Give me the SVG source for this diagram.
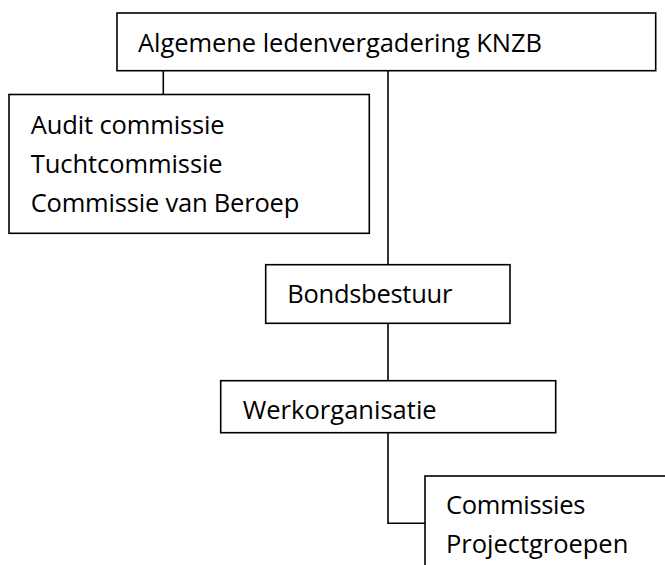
<svg xmlns="http://www.w3.org/2000/svg" width="665" height="565" viewBox="0 0 665 565">
<style>
.box{fill:#fff;stroke:#000;stroke-width:1.6}
.t{font-family:"Open Sans","Noto Sans",sans-serif;font-size:25.5px;fill:#000}
.c{fill:none;stroke:#000;stroke-width:1.6}
</style>
<rect width="665" height="565" fill="#fff"/>
<g id="connectors">
<path class="c" d="M163.3,70.7V94.5"/>
<path class="c" d="M388,70.7V264.7"/>
<path class="c" d="M388,323.3V380.7"/>
<path class="c" d="M388,432.7V523.3H425"/>
</g>
<g id="alv">
<rect class="box" x="117" y="13" width="538.7" height="57.7"/>
<text class="t" x="138" y="52" textLength="404">Algemene ledenvergadering KNZB</text>
</g>
<g id="commissies-alv">
<rect class="box" x="9" y="94.5" width="360.3" height="138.8"/>
<text class="t" x="30.7" y="134" textLength="194">Audit commissie</text>
<text class="t" x="30.7" y="173" textLength="192">Tuchtcommissie</text>
<text class="t" x="30.7" y="212" textLength="268.6">Commissie van Beroep</text>
</g>
<g id="bondsbestuur">
<rect class="box" x="265.7" y="264.7" width="244.3" height="58.6"/>
<text class="t" x="287.3" y="302.7" textLength="165">Bondsbestuur</text>
</g>
<g id="werkorganisatie">
<rect class="box" x="220.7" y="380.7" width="335" height="52"/>
<text class="t" x="242.7" y="419" textLength="194">Werkorganisatie</text>
</g>
<g id="commissies">
<rect class="box" x="425" y="476" width="300" height="150"/>
<text class="t" x="446" y="514" textLength="139.3">Commissies</text>
<text class="t" x="446" y="553.3" textLength="182.3">Projectgroepen</text>
</g>
</svg>
